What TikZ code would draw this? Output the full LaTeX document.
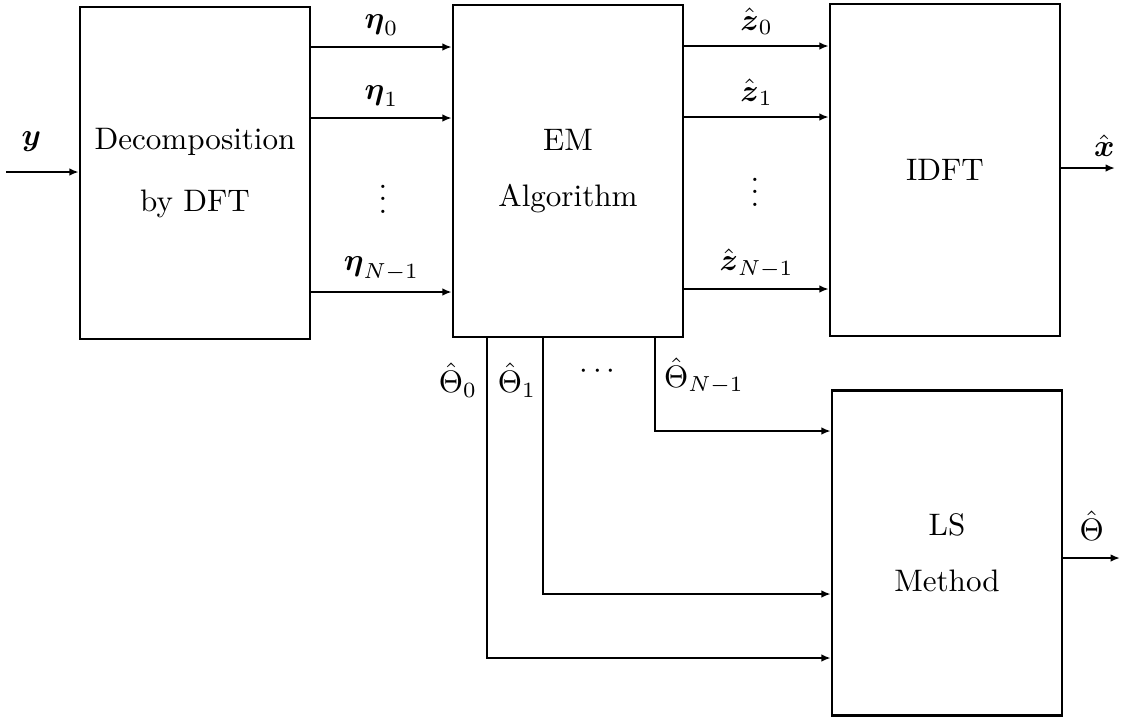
\documentclass[tikz,border=0pt]{standalone}
\usepackage{amsmath}
\usepackage{amssymb}
\usepackage{tikz}
\usetikzlibrary{arrows.meta, positioning}

\begin{document}
\begin{tikzpicture}[x=0.0113cm, y=-0.0113cm, font=\normalsize,
  block/.style={draw, line width=0.8pt, minimum width=2.6cm, minimum height=3.75cm, align=center},
  sig/.style={-{Latex[length=3pt, width=2.4pt]}, line width=0.6pt},
  lab/.style={inner sep=1pt}]
  \useasboundingbox (0,0) rectangle (1123,716);
  % blocks
  \node[block] (dft) at (195,173) {Decomposition\\[8pt]by DFT};
  \node[block] (em) at (568,171) {EM\\[6pt]Algorithm};
  \node[block] (idft) at (945,170) {IDFT};
  \node[block, minimum height=3.67cm] (ls) at (947,553) {LS\\[6pt]Method};

  % input and outputs
  \coordinate (yin) at (6,172);
  \coordinate (xout) at (1115,168);
  \coordinate (thout) at (1120,558);
  \draw[sig] (yin) -- (dft.west |- yin) node[pos=0.35, above=3pt] (ylab) {$\boldsymbol{y}$};
  \draw[sig] (idft.east |- xout) -- (xout) node[pos=0.8, above] (xlab) {$\hat{\boldsymbol{x}}$};
  \draw[sig] (ls.east |- thout) -- (thout) node[midway, above=2pt] (thlab) {$\hat{\Theta}$};

  % parallel channels
  \foreach \i/\ya/\yb/\sub in {0/47/46/0, 1/118/117/1, 2/292/289/{N-1}} {
    \coordinate (l\i) at (0,\ya);
    \coordinate (r\i) at (0,\yb);
    \draw[sig] (dft.east |- l\i) -- (em.west |- l\i)
      node[midway, above] (eta\i) {$\boldsymbol{\eta}_{\sub}$};
    \draw[sig] (em.east |- r\i) -- (idft.west |- r\i)
      node[midway, above] (zh\i) {$\hat{\boldsymbol{z}}_{\sub}$};
  }
  \node (vdl) at (383,190) {$\vdots$};
  \node (vdr) at (755,183) {$\vdots$};

  % parameter estimates to LS
  \foreach \i/\xx/\yy in {0/487/658, 1/543/594, 2/655/431} {
    \coordinate (t\i) at (\xx,\yy);
    \draw[sig] (em.south -| t\i) |- (ls.west |- t\i);
  }
  \node[lab] (th0) at (458,380) {$\hat{\Theta}_0$};
  \node[lab] (th1) at (517,380) {$\hat{\Theta}_1$};
  \node[lab] (thd) at (600,372) {$\cdots$};
  \node[lab] (th2) at (704,376) {$\hat{\Theta}_{N-1}$};
\end{tikzpicture}
\end{document}
